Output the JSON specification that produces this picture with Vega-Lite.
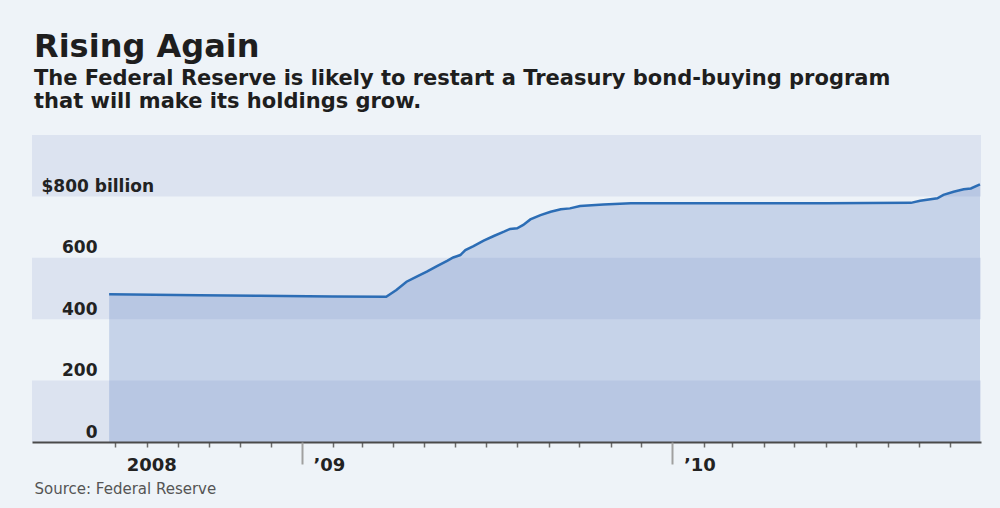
{
  "$schema": "https://vega.github.io/schema/vega-lite/v6.json",
  "width": 949,
  "height": 307,
  "autosize": {"type": "none"},
  "padding": {"left": 32, "top": 135, "right": 19, "bottom": 66},
  "background": "#eef3f8",
  "config": {
    "view": {"stroke": null},
    "font": "DejaVu Sans",
    "axis": {"grid": false, "zindex": 1},
    "axisY": {"labelOverlap": false, "labelFlush": false, "labelBound": false}
  },
  "title": {
    "text": "Rising Again",
    "subtitle": ["The Federal Reserve is likely to restart a Treasury bond-buying program", "that will make its holdings grow."],
    "anchor": "start",
    "frame": "group",
    "dx": 2,
    "font": "DejaVu Sans",
    "fontSize": 32,
    "fontWeight": "bold",
    "color": "#1e1e1e",
    "subtitleFont": "DejaVu Sans",
    "subtitleFontSize": 21,
    "subtitleFontWeight": "bold",
    "subtitleColor": "#1e1e1e",
    "subtitleLineHeight": 23,
    "subtitlePadding": 4,
    "offset": 22
  },
  "data": {"values": [
    {"date": "2008-06-25", "value": 481},
    {"date": "2008-09-22", "value": 478},
    {"date": "2008-11-20", "value": 476},
    {"date": "2009-01-31", "value": 474},
    {"date": "2009-03-25", "value": 473},
    {"date": "2009-04-04", "value": 495},
    {"date": "2009-04-14", "value": 522},
    {"date": "2009-04-24", "value": 539},
    {"date": "2009-05-04", "value": 555},
    {"date": "2009-05-14", "value": 573},
    {"date": "2009-05-24", "value": 590},
    {"date": "2009-05-30", "value": 601},
    {"date": "2009-06-06", "value": 609},
    {"date": "2009-06-11", "value": 625},
    {"date": "2009-06-19", "value": 638},
    {"date": "2009-06-29", "value": 656},
    {"date": "2009-07-09", "value": 671},
    {"date": "2009-07-19", "value": 685},
    {"date": "2009-07-25", "value": 694},
    {"date": "2009-08-01", "value": 696},
    {"date": "2009-08-07", "value": 707},
    {"date": "2009-08-14", "value": 725},
    {"date": "2009-08-24", "value": 739},
    {"date": "2009-09-03", "value": 750},
    {"date": "2009-09-13", "value": 758},
    {"date": "2009-09-22", "value": 761},
    {"date": "2009-10-02", "value": 769},
    {"date": "2009-10-25", "value": 774},
    {"date": "2009-11-21", "value": 778},
    {"date": "2010-03-01", "value": 778},
    {"date": "2010-06-01", "value": 778},
    {"date": "2010-08-24", "value": 779},
    {"date": "2010-09-02", "value": 786},
    {"date": "2010-09-19", "value": 794},
    {"date": "2010-09-25", "value": 805},
    {"date": "2010-10-05", "value": 815},
    {"date": "2010-10-15", "value": 823},
    {"date": "2010-10-22", "value": 826},
    {"date": "2010-10-31", "value": 839}
  ]},
  "layer": [
    {
      "data": {"values": [{"lo": 0, "hi": 200}, {"lo": 400, "hi": 600}, {"lo": 800, "hi": 1000}]},
      "mark": {"type": "rect", "color": "#dce3f0"},
      "encoding": {
        "y": {
          "field": "lo",
          "type": "quantitative",
          "scale": {"domain": [0, 1000], "nice": false},
          "axis": {
            "orient": "left",
            "zindex": 1,
            "title": null,
            "values": [0, 200, 400, 600],
            "ticks": false,
            "domain": false,
            "grid": false,
            "labelAlign": "right",
            "labelPadding": -65,
            "labelBaseline": "alphabetic",
            "labelOffset": -5,
            "labelFlush": false,
            "labelOverlap": false,
            "labelBound": false,
            "labelFont": "DejaVu Sans",
            "labelFontSize": 17,
            "labelFontWeight": "bold",
            "labelColor": "#222222"
          }
        },
        "y2": {"field": "hi"}
      }
    },
    {
      "mark": {"type": "area", "color": "#3d62b8", "opacity": 0.22},
      "encoding": {
        "x": {
          "field": "date",
          "type": "temporal",
          "scale": {"type": "utc", "domain": [{"year": 2008, "month": 4, "date": 10, "utc": true}, {"year": 2010, "month": 11, "date": 1, "utc": true}]},
          "axis": {
            "orient": "bottom",
            "zindex": 1,
            "values": [
              {"year": 2008, "month": 7, "date": 1, "utc": true},
              {"year": 2008, "month": 8, "date": 1, "utc": true},
              {"year": 2008, "month": 9, "date": 1, "utc": true},
              {"year": 2008, "month": 10, "date": 1, "utc": true},
              {"year": 2008, "month": 11, "date": 1, "utc": true},
              {"year": 2008, "month": 12, "date": 1, "utc": true},
              {"year": 2009, "month": 2, "date": 1, "utc": true},
              {"year": 2009, "month": 3, "date": 1, "utc": true},
              {"year": 2009, "month": 4, "date": 1, "utc": true},
              {"year": 2009, "month": 5, "date": 1, "utc": true},
              {"year": 2009, "month": 6, "date": 1, "utc": true},
              {"year": 2009, "month": 7, "date": 1, "utc": true},
              {"year": 2009, "month": 8, "date": 1, "utc": true},
              {"year": 2009, "month": 9, "date": 1, "utc": true},
              {"year": 2009, "month": 10, "date": 1, "utc": true},
              {"year": 2009, "month": 11, "date": 1, "utc": true},
              {"year": 2009, "month": 12, "date": 1, "utc": true},
              {"year": 2010, "month": 2, "date": 1, "utc": true},
              {"year": 2010, "month": 3, "date": 1, "utc": true},
              {"year": 2010, "month": 4, "date": 1, "utc": true},
              {"year": 2010, "month": 5, "date": 1, "utc": true},
              {"year": 2010, "month": 6, "date": 1, "utc": true},
              {"year": 2010, "month": 7, "date": 1, "utc": true},
              {"year": 2010, "month": 8, "date": 1, "utc": true},
              {"year": 2010, "month": 9, "date": 1, "utc": true},
              {"year": 2010, "month": 10, "date": 1, "utc": true}
            ],
            "labels": false,
            "grid": false,
            "tickSize": 5,
            "tickWidth": 1.5,
            "tickColor": "#6a6a6a",
            "domain": true,
            "domainColor": "#4a4a4a",
            "domainWidth": 2,
            "title": "Source: Federal Reserve",
            "titleAnchor": "start",
            "titleAlign": "left",
            "titleBaseline": "alphabetic",
            "titleX": 2,
            "titleY": 51,
            "titleFont": "DejaVu Sans",
            "titleFontSize": 15,
            "titleFontWeight": "normal",
            "titleColor": "#555555"
          }
        },
        "y": {
          "field": "value",
          "type": "quantitative",
          "scale": {"domain": [0, 1000], "nice": false},
          "axis": {
            "orient": "left",
            "zindex": 1,
            "title": null,
            "values": [800],
            "labelExpr": "'$800 billion'",
            "ticks": false,
            "domain": false,
            "grid": false,
            "labelAlign": "left",
            "labelPadding": -9,
            "labelBaseline": "alphabetic",
            "labelOffset": -5,
            "labelFlush": false,
            "labelOverlap": false,
            "labelBound": false,
            "labelFont": "DejaVu Sans",
            "labelFontSize": 17,
            "labelFontWeight": "bold",
            "labelColor": "#222222"
          }
        }
      }
    },
    {
      "mark": {"type": "line", "color": "#2c6db5", "strokeWidth": 2.5},
      "encoding": {
        "x": {
          "field": "date",
          "type": "temporal",
          "scale": {"type": "utc", "domain": [{"year": 2008, "month": 4, "date": 10, "utc": true}, {"year": 2010, "month": 11, "date": 1, "utc": true}]},
          "axis": {
            "orient": "bottom",
            "zindex": 1,
            "values": [
              {"year": 2008, "month": 7, "date": 1, "utc": true},
              {"year": 2009, "month": 1, "date": 1, "utc": true},
              {"year": 2010, "month": 1, "date": 1, "utc": true}
            ],
            "labelExpr": "utcmonth(datum.value) == 0 ? '’' + utcFormat(datum.value, '%y') : '2008'",
            "grid": false,
            "domain": false,
            "tickSize": 22,
            "tickWidth": 2,
            "tickColor": {"condition": {"test": "utcyear(datum.value) == 2008", "value": "transparent"}, "value": "#a0a0a0"},
            "labelAlign": "left",
            "labelBaseline": "alphabetic",
            "labelOffset": 11,
            "labelPadding": 6,
            "labelFlush": false,
            "labelOverlap": false,
            "labelBound": false,
            "labelFont": "DejaVu Sans",
            "labelFontSize": 18,
            "labelFontWeight": "bold",
            "labelColor": "#222222",
            "title": null
          }
        },
        "y": {
          "field": "value",
          "type": "quantitative",
          "scale": {"domain": [0, 1000], "nice": false},
          "axis": null
        }
      }
    }
  ],
  "resolve": {"scale": {"y": "shared", "x": "shared"}, "axis": {"x": "independent", "y": "independent"}}
}
